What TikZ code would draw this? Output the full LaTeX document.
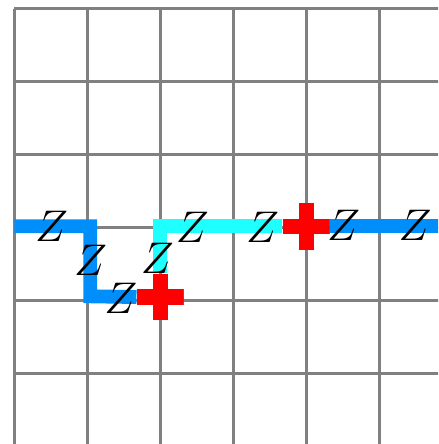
\documentclass[tikz,border=0pt]{standalone}
\usepackage{amsmath,amssymb}
\definecolor{trkB}{RGB}{0,142,250}
\definecolor{trkC}{RGB}{30,255,255}
\definecolor{trkR}{RGB}{255,0,0}
\definecolor{gridG}{RGB}{128,128,128}
\tikzset{
  gridline/.style={gridG,line width=1.25pt},
  trkblue/.style={trkB,line width=5.4pt},
  trkcyan/.style={trkC,line width=5.4pt},
  zlab/.style={inner sep=0pt,font=\fontsize{17}{20}\selectfont},
  plusmark/.style={minimum size=0.64cm,inner sep=0pt,
    path picture={
      \fill[trkR] ([yshift=-0.105cm]path picture bounding box.west) rectangle ([yshift=0.105cm]path picture bounding box.east);
      \fill[trkR] ([xshift=-0.105cm]path picture bounding box.south) rectangle ([xshift=0.105cm]path picture bounding box.north);
    }}
}
\begin{document}
\begin{tikzpicture}
\useasboundingbox (-0.196,0.119) rectangle (5.804,-5.963);
\clip (-0.196,0.119) rectangle (5.804,-5.963);
\draw[gridline] (0,-6) grid (6,0);
% track points
\coordinate (a0) at (0,-2.98);
\coordinate (a1) at (1.04,-2.98);
\coordinate (a2) at (1.04,-3.94);
\coordinate (c1) at (2,-2.98);
\coordinate (e0) at (6,-2.98);
\node[plusmark] (p1) at (2,-3.95) {};
\node[plusmark] (p2) at (4,-2.98) {};
\draw[trkblue] (a0) -- (a1) -- (a2) -- (p1.west);
\draw[trkcyan] (p1.north) -- (c1) -- (p2.west);
\draw[trkblue] (p2.east) -- (e0);
\node[plusmark] at (p1) {};
\node[plusmark] at (p2) {};
% labels
\node[zlab] (z1) at (0.51,-2.98) {$Z$};
\node[zlab] (z2) at (1.045,-3.45) {$Z$};
\node[zlab] (z3) at (1.46,-3.97) {$Z$};
\node[zlab] (z4) at (1.96,-3.42) {$Z$};
\node[zlab] (z5) at (2.44,-2.99) {$Z$};
\node[zlab] (z6) at (3.40,-3.0) {$Z$};
\node[zlab] (z7) at (4.51,-2.97) {$Z$};
\node[zlab] (z8) at (5.49,-2.97) {$Z$};
\end{tikzpicture}
\end{document}
